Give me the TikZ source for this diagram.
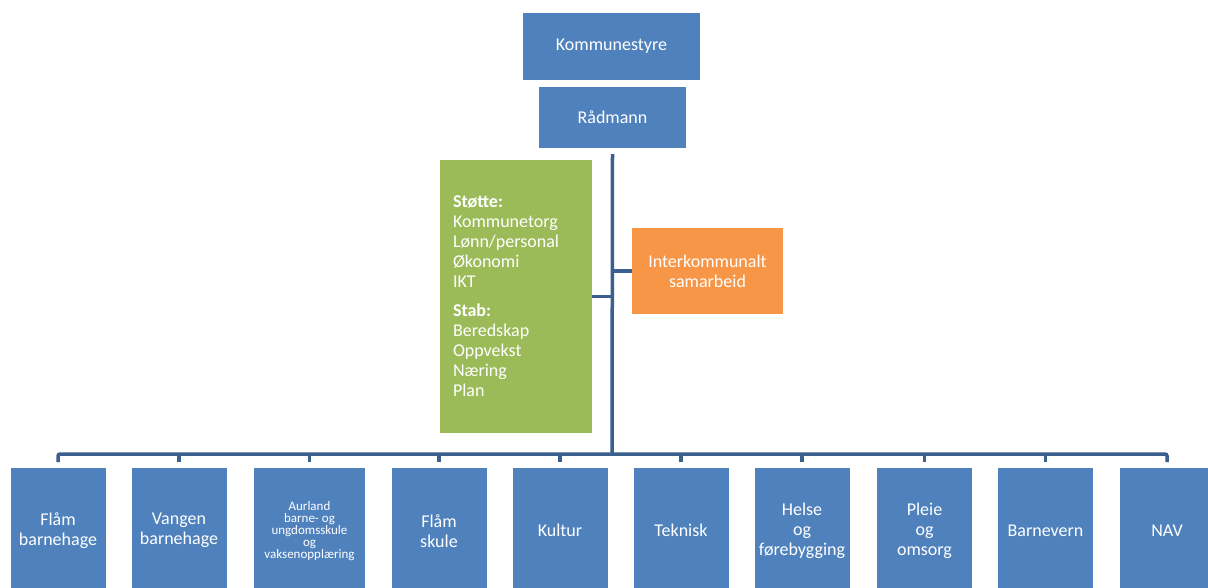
\documentclass[tikz,border=0pt]{standalone}
\usepackage{fontspec}
\setmainfont{Carlito}
\definecolor{unit}{HTML}{4F81BD}
\definecolor{staff}{HTML}{9BBB59}
\definecolor{partner}{HTML}{F79646}
\definecolor{wire}{HTML}{3B5F8E}

\begin{document}
\begin{tikzpicture}[x=1pt,y=-1pt,box/.style={fill=unit,text=white,align=center,inner sep=2pt,font=\fontsize{18}{20}\selectfont},dept/.style={box,minimum width=95pt,minimum height=125pt,anchor=north},line/.style={draw=wire,line width=3.5pt}]
 \clip (0,0) rectangle (1208,587);
 \fill[white] (0,0) rectangle (1208,587);
 \node[box,minimum width=177pt,minimum height=67pt] (styre) at (611.5,46.5) {Kommunestyre};
 \node[box,minimum width=147pt,minimum height=61pt] (radmann) at (612.5,117.5) {Rådmann};
 \node[box,fill=staff,align=left,text width=126pt,inner xsep=13pt,minimum height=273pt] (stotte) at (516,296.5) {\textbf{Støtte:}\\Kommunetorg\\Lønn/personal\\Økonomi\\IKT\\[9pt]\textbf{Stab:}\\Beredskap\\Oppvekst\\Næring\\Plan};
 \node[box,fill=partner,minimum width=151pt,minimum height=86pt] (samarbeid) at (707.5,271) {Interkommunalt\\samarbeid};
 % einingar
 \node[dept] (flambh) at (58,468) {Flåm\\barnehage};
 \node[dept] (vangen) at (179,468) {Vangen\\barnehage};
 \node[dept,minimum width=111pt,font=\fontsize{13}{12}\selectfont] (aurland) at (309.5,468) {Aurland\\barne- og\\ungdomsskule\\og\\vaksenopplæring};
 \node[dept] (flamsk) at (439,468) {Flåm\\skule};
 \node[dept] (kultur) at (560,468) {Kultur};
 \node[dept] (teknisk) at (681,468) {Teknisk};
 \node[dept] (helse) at (802,468) {Helse\\og\\førebygging};
 \node[dept] (pleie) at (924.5,468) {Pleie\\og\\omsorg};
 \node[dept] (barnevern) at (1045.5,468) {Barnevern};
 \node[dept] (nav) at (1167,468) {NAV};
 % linjer
 \coordinate (bus) at (612,454);
 \draw[line] ([yshift=-6pt]radmann.south) -- (bus);
 \draw[line] (stotte.east) -- (stotte.east -| bus);
 \draw[line] (samarbeid.west) -- (samarbeid.west -| bus);
 \draw[line,rounded corners=2pt] ([yshift=6pt]flambh.north) |- (bus) -| ([yshift=6pt]nav.north);
 \draw[line] ([yshift=6pt]vangen.north) -- (vangen.north |- bus);
 \draw[line] ([yshift=6pt]aurland.north) -- (aurland.north |- bus);
 \draw[line] ([yshift=6pt]flamsk.north) -- (flamsk.north |- bus);
 \draw[line] ([yshift=6pt]kultur.north) -- (kultur.north |- bus);
 \draw[line] ([yshift=6pt]teknisk.north) -- (teknisk.north |- bus);
 \draw[line] ([yshift=6pt]helse.north) -- (helse.north |- bus);
 \draw[line] ([yshift=6pt]pleie.north) -- (pleie.north |- bus);
 \draw[line] ([yshift=6pt]barnevern.north) -- (barnevern.north |- bus);
\end{tikzpicture}
\end{document}
